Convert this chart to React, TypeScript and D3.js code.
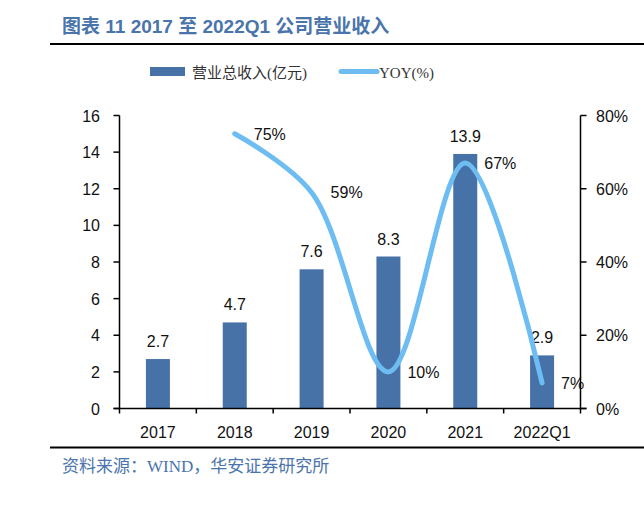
import React from "react";
import * as d3 from "d3";

const categories = ["2017", "2018", "2019", "2020", "2021", "2022Q1"];
const revenue = [2.7, 4.7, 7.6, 8.3, 13.9, 2.9];
const yoyCategories = ["2018", "2019", "2020", "2021", "2022Q1"];
const yoy = [75, 59, 10, 67, 7];
const leftTicks = [0, 2, 4, 6, 8, 10, 12, 14, 16];
const rightTicks = [0, 20, 40, 60, 80];

const W = 644;
const H = 511;
const L = 119.5;
const R = 580.5;
const T = 115.5;
const B = 408.5;
const BAR = "#4672A8";
const LINE = "#6DBDF2";
const BLUE_TXT = "#4A74AC";
const SANS = "'Liberation Sans', Arial, sans-serif";
const SERIF = "'Liberation Serif', 'Noto Sans CJK SC', serif";

export default function App() {
  const x = d3.scaleBand<string>().domain(categories).range([L, R]).paddingInner(0).paddingOuter(0);
  const yL = d3.scaleLinear().domain([0, 16]).range([B, T]);
  const yR = d3.scaleLinear().domain([0, 80]).range([B, T]);
  const barW = 24;
  const cx = (c: string) => (x(c) as number) + x.bandwidth() / 2;

  const pts: [number, number][] = yoyCategories.map((c, i) => [cx(c), yR(yoy[i])]);
  const line = d3.line().curve(d3.curveCatmullRom.alpha(0.5))(pts) as string;

  const boundaries = categories.map((c) => x(c) as number).concat([R]);

  return (
    <svg width={W} height={H} style={{ position: "absolute", left: 0, top: 0 }}>
      <rect width={W} height={H} fill="#fff" />
      <text x={62} y={33} fill={BLUE_TXT} fontWeight="bold" fontSize={19}
        fontFamily="'Liberation Sans', 'Noto Sans CJK SC', sans-serif">
        图表 11 2017 至 2022Q1 公司营业收入
      </text>
      <line x1={50} x2={W} y1={44} y2={44} stroke="#000" strokeWidth={2} />

      {/* legend */}
      <rect x={150} y={67} width={35} height={9} fill={BAR} />
      <text x={192} y={78} fontSize={15} fontFamily={SERIF} fill="#333">营业总收入(亿元)</text>
      <line x1={341} x2={377} y1={71.5} y2={71.5} stroke={LINE} strokeWidth={5} strokeLinecap="round" />
      <text x={379} y={78} fontSize={15} fontFamily={SERIF} fill="#333">YOY(%)</text>

      {/* bars */}
      {categories.map((c, i) => (
        <rect key={c} x={cx(c) - barW / 2} y={yL(revenue[i])} width={barW} height={B - yL(revenue[i])} fill={BAR} />
      ))}
      {categories.map((c, i) => (
        <text key={"bl" + c} x={cx(c)} y={yL(revenue[i]) - 12} textAnchor="middle" fontSize={16} fontFamily={SANS} fill="#111">
          {revenue[i].toFixed(1)}
        </text>
      ))}

      {/* line */}
      <path d={line} fill="none" stroke={LINE} strokeWidth={5} strokeLinecap="round" />
      {yoyCategories.map((c, i) => (
        <text key={"yl" + c} x={cx(c) + 19} y={yR(yoy[i]) + 6} fontSize={16} fontFamily={SANS} fill="#111">
          {yoy[i]}%
        </text>
      ))}

      {/* axes */}
      <line x1={L} x2={L} y1={T} y2={B} stroke="#000" strokeWidth={1.5} />
      <line x1={R} x2={R} y1={T} y2={B} stroke="#000" strokeWidth={1.5} />
      <line x1={L - 6} x2={R + 6} y1={B} y2={B} stroke="#000" strokeWidth={1.5} />
      {leftTicks.map((t) => (
        <g key={"lt" + t}>
          <line x1={L - 6} x2={L} y1={yL(t)} y2={yL(t)} stroke="#000" strokeWidth={1.5} />
          <text x={100} y={yL(t) + 6} textAnchor="end" fontSize={16} fontFamily={SANS} fill="#111">{t}</text>
        </g>
      ))}
      {rightTicks.map((t) => (
        <g key={"rt" + t}>
          <line x1={R} x2={R + 6} y1={yR(t)} y2={yR(t)} stroke="#000" strokeWidth={1.5} />
          <text x={596} y={yR(t) + 6} fontSize={16} fontFamily={SANS} fill="#111">{t}%</text>
        </g>
      ))}
      {boundaries.map((b, i) => (
        <line key={"bt" + i} x1={b} x2={b} y1={B} y2={B + 5} stroke="#000" strokeWidth={1.5} />
      ))}
      {categories.map((c) => (
        <text key={"cl" + c} x={cx(c)} y={438} textAnchor="middle" fontSize={16} fontFamily={SANS} fill="#111">{c}</text>
      ))}

      <line x1={50} x2={W} y1={447.5} y2={447.5} stroke="#000" strokeWidth={2} />
      <text x={62} y={472} fontSize={17} fontFamily={SERIF} fill={BLUE_TXT}>资料来源：WIND，华安证券研究所</text>
    </svg>
  );
}
